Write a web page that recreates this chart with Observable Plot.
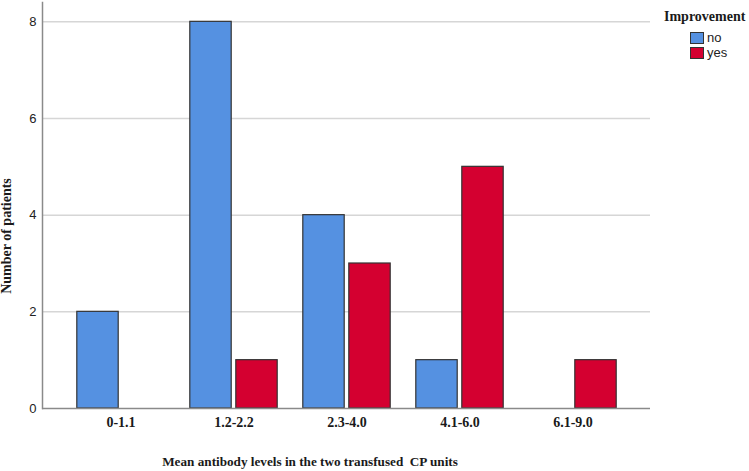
<!DOCTYPE html>
<html>
<head>
<meta charset="utf-8">
<script src="https://cdn.jsdelivr.net/npm/d3@7"></script>
<script src="https://cdn.jsdelivr.net/npm/@observablehq/plot@0.6"></script>
<style>
  html, body { margin: 0; padding: 0; background: #fff; }
  #wrap { position: relative; width: 749px; height: 471px; overflow: hidden; }
  .serif { font-family: "Liberation Serif", "Times New Roman", serif; font-weight: bold; font-size: 14px; color: #1a1a1a; position: absolute; white-space: nowrap; }
  #ytitle { left: 7px; top: 236px; transform: translate(-50%, -50%) rotate(-90deg); }
  #xtitle { left: 310px; top: 462px; transform: translate(-50%, -50%); font-size: 13.2px; }
  #legend { position: absolute; left: 664px; top: 9px; }
  #legend .ttl { position: static; }
  .item { display: flex; align-items: center; font-family: "Liberation Sans", Arial, sans-serif; font-size: 13px; color: #222; margin-left: 26px; height: 15px; }
  .sw { width: 12px; height: 10px; border: 1px solid #333; margin-right: 3px; }
</style>
</head>
<body>
<div id="wrap">
  <div id="chart"></div>
  <div id="ytitle" class="serif">Number of patients</div>
  <div id="xtitle" class="serif">Mean antibody levels in the two transfused&nbsp; CP units</div>
  <div id="legend"></div>
</div>
<script>
const categories = ["0-1.1", "1.2-2.2", "2.3-4.0", "4.1-6.0", "6.1-9.0"];
const noValues = [2, 8, 4, 1, 0];
const yesValues = [0, 1, 3, 5, 1];
const groups = ["no", "yes"];
const yTicks = [0, 2, 4, 6, 8];
const colors = ["#5591e1", "#d40030"];
const legendTitle = "Improvement";

const rows = [];
categories.forEach((c, i) => {
  rows.push({cat: c, group: "no", value: noValues[i]});
  rows.push({cat: c, group: "yes", value: yesValues[i]});
});
const data = rows.filter(d => d.value > 0);

const W = 749, H = 471, mL = 42, mR = 99, mT = 2, mB = 63;
const padOuter = 0.176;
const bw = (W - mL - mR) / (categories.length + 2 * padOuter);
const barW = 42, gap = 4;

const chart = Plot.plot({
  width: W, height: H,
  marginLeft: mL, marginRight: mR, marginTop: mT, marginBottom: mB,
  style: {fontFamily: "'Liberation Sans', Arial, sans-serif", fontSize: "12px", color: "#222", background: "#fff"},
  x: {domain: categories, paddingInner: 0, paddingOuter: padOuter, axis: null},
  y: {domain: [0, 8.4], axis: null},
  color: {domain: groups, range: colors},
  marks: [
    Plot.ruleY(yTicks.slice(1), {stroke: "#d6d6d6", strokeWidth: 1.5}),
    Plot.barY(data.filter(d => d.group === "no"), {
      x: "cat", y: "value", fill: "group", stroke: "#333", strokeWidth: 1.2,
      insetLeft: bw / 2 - gap / 2 - barW, insetRight: bw / 2 + gap / 2
    }),
    Plot.barY(data.filter(d => d.group === "yes"), {
      x: "cat", y: "value", fill: "group", stroke: "#333", strokeWidth: 1.2,
      insetLeft: bw / 2 + gap / 2, insetRight: bw / 2 - gap / 2 - barW
    }),
    Plot.ruleY([0], {stroke: "#8a8a8a", strokeWidth: 1.5}),
    Plot.frame({anchor: "left", stroke: "#8a8a8a", strokeWidth: 1.5}),
    Plot.axisY({ticks: yTicks, tickSize: 0, tickPadding: 6, label: null, fontSize: 13, fill: "#222"}),
    Plot.axisX({tickSize: 0, tickPadding: 9, label: null, fontFamily: "'Liberation Serif', 'Times New Roman', serif", fontWeight: "bold", fontSize: 14, fill: "#1a1a1a"})
  ]
});
document.getElementById("chart").appendChild(chart);

const legend = document.getElementById("legend");
const t = document.createElement("div");
t.className = "serif ttl";
t.textContent = legendTitle;
legend.appendChild(t);
const lg = document.createElement("div");
lg.style.marginTop = "5px";
groups.forEach((g, i) => {
  const it = document.createElement("div");
  it.className = "item";
  const sw = document.createElement("div");
  sw.className = "sw";
  sw.style.background = colors[i];
  it.appendChild(sw);
  const s = document.createElement("span");
  s.textContent = g;
  it.appendChild(s);
  lg.appendChild(it);
});
legend.appendChild(lg);
</script>
</body>
</html>
